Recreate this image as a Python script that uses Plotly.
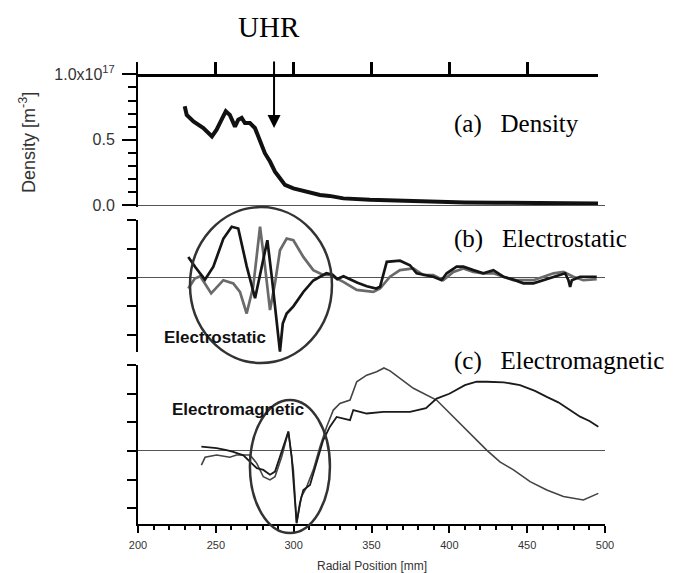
import plotly.graph_objects as go

# ---------------- data ----------------
dens_x = [230, 231.3, 235.6, 242, 247.5, 250.5, 253.7, 256.4, 259, 262.3, 264.4, 266.6, 268.7,
          271.9, 275.1, 278.3, 281.5, 284.8, 288, 291.2, 294.4, 299.8, 308.3, 316.9, 323, 331.9,
          349, 355, 370, 387.6, 410, 430.6, 460, 495.5]
dens_y = [0.756, 0.69, 0.64, 0.59, 0.525, 0.577, 0.654, 0.718, 0.69, 0.60, 0.654, 0.667, 0.628,
          0.628, 0.59, 0.5, 0.397, 0.333, 0.256, 0.205, 0.154, 0.128, 0.10, 0.077, 0.07, 0.051,
          0.04, 0.038, 0.03, 0.025, 0.02, 0.018, 0.014, 0.012]

es_a_x = [232.3, 237, 243, 248.4, 254.8, 260.2, 264.4, 269.8, 275.2, 279.5, 283.1, 286, 289,
          291.2, 293, 295.5, 299.8, 306.2, 312.6, 321, 325, 328, 332, 336, 341, 347, 353, 355.5,
          359.8, 368.3, 374.7, 379, 385.5, 389.7, 395, 398.3, 404.7, 409, 415.4, 421.8, 428.3,
          434.7, 441.2, 447.6, 454, 460.5, 466.9, 471, 474.4, 476.5, 477.6, 478.7, 484, 494.7]
es_a_y = [0.72, 0.35, -0.07, 0.38, 1.35, 1.77, 1.71, 0.4, -0.72, 0.4, 1.3, 0.0, -1.5,
          -2.58, -1.6, -1.25, -1.0, -0.5, -0.1, 0.15, 0.1, -0.05, 0.05, -0.05, -0.18, -0.3, -0.38, -0.32,
          0.55, 0.59, 0.43, 0.15, 0.09, 0.03, -0.09, 0.15, 0.38, 0.38, 0.26, 0.15, 0.26,
          0.03, -0.07, -0.2, -0.2, -0.09, 0.03, 0.1, 0.15, -0.09, -0.32, -0.09, 0.03, 0.03]

es_b_x = [232.3, 236.5, 240, 247, 254.8, 261.2, 265.5, 269.8, 274, 278.4, 281.6, 284.8, 288,
          291.2, 295.5, 299.8, 306.2, 312.6, 319, 323.3, 331.9, 340.5, 351.2, 355.5, 361.9,
          368.3, 376.9, 383.3, 389.7, 396.1, 402.6, 409, 415.4, 421.8, 428.3, 434.7, 441.2,
          447.6, 454, 460.5, 466.9, 473.3, 479.7, 486.1, 494.7]
es_b_y = [-0.38, -0.03, 0.05, -0.55, -0.09, -0.2, -0.5, -1.25, -0.32, 1.77, 0.38, -1.13, -0.2,
          0.95, 1.36, 1.3, 0.72, 0.26, 0.09, 0.09, -0.15, -0.43, -0.5, -0.38, 0.03,
          0.26, 0.32, 0.09, 0.09, -0.09, 0.2, 0.32, 0.2, 0.15, 0.15, 0.03, -0.09,
          -0.09, -0.09, 0.03, 0.15, 0.2, 0.03, -0.09, -0.05]

em_q_x = [240.7, 250.5, 256.9, 261.2, 267.7, 272, 276.3, 280.5, 284.8, 288, 291.2, 294.4, 296.6,
          298.7, 301.9, 304, 306.2, 310.5, 314.8, 319, 323.3, 327.6, 336.2, 338.3, 346.9, 357.6,
          374.7, 385, 391.8, 400, 410, 417.5, 424, 435, 445.4, 455, 462.6, 470, 477, 484, 490, 495.7]
em_q_y = [0.15, 0.1, 0.03, -0.03, -0.15, -0.38, -0.6, -0.66, -0.83, -0.72, -0.2, 0.26, 0.68,
          -0.2, -2.52, -1.82, -1.36, -1.19, -0.43, 0.38, 0.85, 1.19, 1.08, 1.43, 1.31, 1.37,
          1.37, 1.5, 1.83, 2.0, 2.3, 2.42, 2.42, 2.4, 2.3, 2.1, 1.89, 1.7, 1.45, 1.2, 1.05, 0.85]

em_p_x = [240.7, 243.1, 250.5, 259, 263.3, 272, 276.3, 280.5, 284.8, 288, 292.3, 296.6, 299.8,
          301.9, 305, 308, 312.6, 316.9, 321.2, 325.5, 329.7, 336.2, 340.5, 346.9, 353.3, 358,
          361.9, 368.3, 376.9, 391.8, 400.4, 409, 417.5, 424, 432.5, 441.2, 451.9, 462.6,
          473.3, 486.1, 495.7]
em_p_y = [-0.49, -0.22, -0.14, -0.22, -0.14, -0.14, -0.43, -0.9, -1.01, -0.9, -0.2, 0.68, -0.66,
          -2.52, -1.59, -1.3, -0.66, 0.15, 0.85, 1.43, 1.66, 1.78, 2.42, 2.65, 2.77, 2.9,
          2.8, 2.54, 2.19, 1.78, 1.31, 0.85, 0.38, 0.03, -0.38, -0.66, -1.07, -1.36,
          -1.59, -1.71, -1.48]

x_ticks = [200, 250, 300, 350, 400, 450, 500]
top_ticks = [250, 300, 350, 400, 450]
dens_ticks = [0.0, 0.5, 1.0]
dens_ticktext = ["0.0", "0.5", "1.0x10<sup>17</sup>"]
wave_ticks_b = [-2, -1, 0, 1, 2]
wave_ticks_c = [-2, -1, 0, 1, 2, 3]

# ---------------- figure ----------------
SANS = "Liberation Sans"
SERIF = "Liberation Serif"

fig = go.Figure()
fig.add_trace(go.Scatter(x=dens_x, y=dens_y, mode="lines", xaxis="x", yaxis="y",
                         line=dict(color="#111", width=4), showlegend=False))
fig.add_trace(go.Scatter(x=es_b_x, y=es_b_y, mode="lines", xaxis="x", yaxis="y2",
                         line=dict(color="#6a6a6a", width=2.7), showlegend=False))
fig.add_trace(go.Scatter(x=es_a_x, y=es_a_y, mode="lines", xaxis="x", yaxis="y2",
                         line=dict(color="#151515", width=2.7), showlegend=False))
fig.add_trace(go.Scatter(x=em_p_x, y=em_p_y, mode="lines", xaxis="x", yaxis="y3",
                         line=dict(color="#444", width=1.6), showlegend=False))
fig.add_trace(go.Scatter(x=em_q_x, y=em_q_y, mode="lines", xaxis="x", yaxis="y3",
                         line=dict(color="#1a1a1a", width=1.8), showlegend=False))
# dummy trace so the top axis is drawn
fig.add_trace(go.Scatter(x=[None], y=[None], xaxis="x2", yaxis="y", showlegend=False,
                         hoverinfo="skip"))

yax_common = dict(showline=True, linewidth=2, linecolor="black", ticks="outside",
                  tickcolor="black", showgrid=False, zeroline=True, zerolinecolor="#555",
                  zerolinewidth=1, anchor="x", automargin=False)

fig.update_layout(
    width=676, height=573,
    margin=dict(l=130, r=79, t=54, b=57),
    paper_bgcolor="white", plot_bgcolor="rgba(0,0,0,0)",
    xaxis=dict(domain=[0, 1], range=[200, 500], anchor="y3", showline=True, linewidth=2,
               linecolor="black", ticks="outside", ticklen=7, tickwidth=1.5, tickcolor="black",
               tickvals=x_ticks, showgrid=False, zeroline=False, ticklabelstandoff=3,
               automargin=False,
               minor=dict(dtick=10, tick0=200, ticks="outside", ticklen=4, tickwidth=1.5,
                          tickcolor="black"),
               tickfont=dict(family=SANS, size=11, color="#333")),
    xaxis2=dict(domain=[0, 0.985], range=[200, 495.5], anchor="free", position=0.9719,
                side="top", showline=True, linewidth=2.5, linecolor="black", ticks="outside",
                ticklen=12, tickwidth=2.5, tickcolor="black", tickvals=top_ticks,
                showticklabels=False, showgrid=False, zeroline=False, automargin=False),
    yaxis=dict(domain=[0.687, 1.0], range=[-0.012, 1.095], tickvals=dens_ticks,
               ticktext=dens_ticktext, ticklen=14, tickwidth=1.5, ticklabelstandoff=4,
               minor=dict(dtick=0.1, tick0=0, ticks="outside", ticklen=8, tickwidth=1.5,
                          tickcolor="black"),
               tickfont=dict(family=SANS, size=16, color="#333"), **yax_common),
    yaxis2=dict(domain=[0.3723, 0.658], range=[-2.59, 2.005], tickvals=wave_ticks_b,
                ticklen=9, tickwidth=1.5, showticklabels=False, **yax_common),
    yaxis3=dict(domain=[0, 0.3442], range=[-2.55, 3.005], tickvals=wave_ticks_c,
                ticklen=9, tickwidth=1.5, showticklabels=False, **yax_common),
)

# ellipses highlighting regions
fig.add_shape(type="circle", xref="x", yref="paper", x0=233.4, x1=324.6, y0=0.3485, y1=0.686,
              line=dict(color="#333", width=2.5))
fig.add_shape(type="circle", xref="x", yref="paper", x0=271.9, x1=323.3, y0=-0.0195, y1=0.2684,
              line=dict(color="#333", width=2.5))

ann = []
ann.append(dict(text="Radial Position [mm]", xref="paper", yref="paper", x=0.5, y=-0.0909,
                xanchor="center", yanchor="middle", showarrow=False,
                font=dict(family=SANS, size=12, color="#333")))
ann.append(dict(text="Density [m<sup>-3</sup>]", xref="paper", yref="paper", x=-0.2377, y=0.8268,
                xanchor="center", yanchor="middle",
                textangle=-90, showarrow=False, font=dict(family=SANS, size=18, color="#333")))
ann.append(dict(text="UHR", xref="paper", yref="paper", x=0.2805, y=1.0758, showarrow=False,
                xanchor="center", yanchor="middle",
                font=dict(family=SERIF, size=29, color="black")))
ann.append(dict(text="", xref="x", yref="paper", x=287.4, y=0.857, ax=0, ay=-68,
                showarrow=True, arrowhead=2, arrowsize=1.3, arrowwidth=2, arrowcolor="black"))
for txt, yy in [("(a)\u00a0\u00a0\u00a0Density", 0.8658),
                ("(b)\u00a0\u00a0\u00a0Electrostatic", 0.6169),
                ("(c)\u00a0\u00a0\u00a0Electromagnetic", 0.3528)]:
    ann.append(dict(text=txt, xref="paper", yref="paper", x=0.672, y=yy, xanchor="left",
                    yanchor="middle", showarrow=False,
                    font=dict(family=SERIF, size=25, color="black")))
ann.append(dict(text="<b>Electrostatic</b>", xref="paper", yref="paper", x=0.165, y=0.4026,
                xanchor="center", yanchor="middle",
                showarrow=False, font=dict(family=SANS, size=17, color="#111")))
ann.append(dict(text="<b>Electromagnetic</b>", xref="paper", yref="paper", x=0.2141, y=0.2468,
                xanchor="center", yanchor="middle",
                showarrow=False, font=dict(family=SANS, size=17, color="#111")))
fig.update_layout(annotations=ann)

fig.write_html("out.html")
